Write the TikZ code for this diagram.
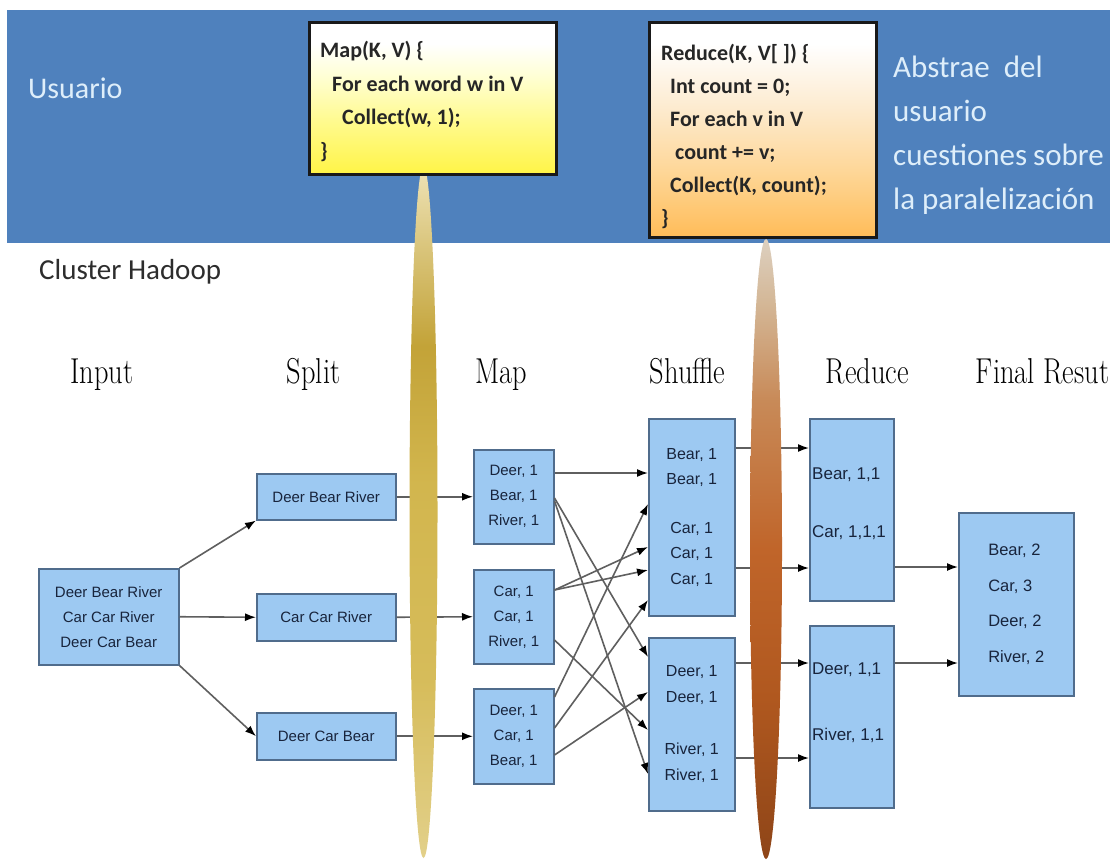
\documentclass[tikz,border=0pt]{standalone}
\usepackage{fontspec}
\newfontfamily\calibri{Carlito}
\newfontfamily\arial{Liberation Sans}
\usetikzlibrary{arrows.meta}
\definecolor{banner}{RGB}{79,129,189}
\definecolor{boxfill}{RGB}{157,201,242}
\definecolor{boxdraw}{RGB}{80,108,140}
\definecolor{boxtext}{RGB}{24,36,60}
\definecolor{linecol}{RGB}{95,95,95}
\definecolor{usertext}{RGB}{222,238,250}
\definecolor{clustertext}{RGB}{45,45,45}
% map code box shading
\definecolor{mapA}{RGB}{255,244,70}
\definecolor{mapB}{RGB}{255,250,140}
\definecolor{mapC}{RGB}{255,255,215}
\pgfdeclareverticalshading{mapsh}{100bp}{color(0bp)=(mapA); color(25bp)=(mapA); color(42bp)=(mapB); color(58bp)=(mapC); color(68bp)=(white); color(100bp)=(white)}
% reduce code box shading
\definecolor{redA}{RGB}{255,188,88}
\definecolor{redB}{RGB}{254,214,150}
\definecolor{redC}{RGB}{253,236,210}
\pgfdeclareverticalshading{redsh}{100bp}{color(0bp)=(redA); color(25bp)=(redA); color(40bp)=(redB); color(56bp)=(redC); color(70bp)=(white); color(100bp)=(white)}
% gold spindle
\definecolor{goldA}{RGB}{226,208,138}
\definecolor{goldB}{RGB}{214,188,90}
\definecolor{goldC}{RGB}{210,182,78}
\definecolor{goldD}{RGB}{195,163,56}
\definecolor{goldE}{RGB}{217,196,122}
\definecolor{goldF}{RGB}{239,228,184}
\pgfdeclareverticalshading{goldsh}{100bp}{color(0bp)=(goldA); color(25bp)=(goldA); color(38bp)=(goldB); color(52bp)=(goldC); color(62bp)=(goldD); color(69bp)=(goldE); color(75bp)=(goldF); color(100bp)=(goldF)}
% brown spindle
\definecolor{brA}{RGB}{142,69,24}
\definecolor{brB}{RGB}{176,88,31}
\definecolor{brC}{RGB}{192,101,42}
\definecolor{brD}{RGB}{200,138,88}
\definecolor{brE}{RGB}{212,184,152}
\definecolor{brF}{RGB}{221,208,192}
\pgfdeclareverticalshading{brsh}{100bp}{color(0bp)=(brA); color(25bp)=(brA); color(38bp)=(brB); color(50bp)=(brC); color(62bp)=(brD); color(70bp)=(brE); color(75bp)=(brF); color(100bp)=(brF)}
\begin{document}
\begin{tikzpicture}[x=1pt,y=-1pt,
  ubox/.style={draw=boxdraw, line width=1.5pt, fill=boxfill, inner sep=0pt,
    anchor=north west, text=boxtext, align=center,
    font=\arial\fontsize{15}{25}\selectfont},
  shbox/.style={ubox, font=\arial\fontsize{16}{25.5}\selectfont},
  rtext/.style={anchor=west, inner sep=0pt, text=boxtext,
    font=\arial\fontsize{17}{20}\selectfont},
  conn/.style={draw=linecol, line width=1.6pt,
    -{Latex[length=11pt,width=8pt,color=black]}},
  head/.style={anchor=base, inner sep=0pt, text=black,
    font=\fontsize{36}{40}\selectfont},
  codebox/.style={draw=black!90, line width=3pt, anchor=north west, inner sep=0pt},
  codetext/.style={anchor=north west, inner sep=0pt, align=left, text=black!85,
    font=\calibri\bfseries\fontsize{22}{33.5}\selectfont},
]
\useasboundingbox (0,0) rectangle (1118,859);
\fill[white] (0,0) rectangle (1118,859);
% banner
\fill[banner] (7,10) rectangle (1110,243);
\node[anchor=west, inner sep=0pt, text=usertext, font=\calibri\fontsize{30}{32}\selectfont] (usuario) at (28,88) {Usuario};
\node[anchor=north west, inner sep=0pt, align=left, text=usertext, font=\calibri\fontsize{31}{44}\selectfont] (abstrae) at (893,53)
  {\rule{0pt}{24pt}Abstrae\ \ del\\usuario\\cuestiones\hspace{-1pt} sobre\\la paralelización};
\node[anchor=west, inner sep=0pt, text=clustertext, font=\calibri\fontsize{29}{31}\selectfont] (cluster) at (39,272) {Cluster Hadoop};

% headers
\node[head] (hin) at (102,383) {\scalebox{0.79}[1]{Input}};
\node[head] (hsp) at (313.5,383) {\scalebox{0.79}[1]{Split}};
\node[head] (hmap) at (501,383) {\scalebox{0.79}[1]{Map}};
\node[head] (hsh) at (687.5,383) {\scalebox{0.79}[1]{Shuffle}};
\node[head] (hred) at (867.5,383) {\scalebox{0.79}[1]{Reduce}};
\node[head] (hfin) at (1042.5,383) {\scalebox{0.79}[1]{Final Resut}};

% boxes
\node[ubox, minimum width=140pt, minimum height=96pt] (in) at (38,568) {Deer Bear River\\Car Car River\\Deer Car Bear};
\node[ubox, minimum width=139pt, minimum height=46pt] (s1) at (256,473) {Deer Bear River};
\node[ubox, minimum width=139pt, minimum height=47pt] (s2) at (256,593) {Car Car River};
\node[ubox, minimum width=139pt, minimum height=47pt] (s3) at (256,712) {Deer Car Bear};
\node[ubox, minimum width=80pt, minimum height=94pt] (m1) at (473,449) {Deer, 1\\Bear, 1\\River, 1};
\node[ubox, minimum width=80pt, minimum height=94pt] (m2) at (473,569) {Car, 1\\Car, 1\\River, 1};
\node[ubox, minimum width=80pt, minimum height=95pt] (m3) at (473,688) {Deer, 1\\Car, 1\\Bear, 1};
\node[shbox, minimum width=86pt, minimum height=197pt] (sh1) at (648,418) {Bear, 1\\Bear, 1\\[23pt]Car, 1\\Car, 1\\Car, 1};
\node[shbox, minimum width=86pt, minimum height=173pt] (sh2) at (648,637) {Deer, 1\\Deer, 1\\[27pt]River, 1\\River, 1};
\node[ubox, minimum width=84pt, minimum height=182pt] (r1) at (809,418) {};
\node[ubox, minimum width=84pt, minimum height=182pt] (r2) at (809,625) {};
\node[rtext] (r1a) at (812,475) {Bear, 1,1};
\node[rtext] (r1b) at (812,533) {Car, 1,1,1};
\node[rtext] (r2a) at (812,670) {Deer, 1,1};
\node[rtext] (r2b) at (812,735) {River, 1,1};
\node[ubox, align=left, minimum width=115pt, minimum height=183pt, font=\arial\fontsize{16.5}{35.7}\selectfont] (fin) at (958,512) {Bear, 2\\Car, 3\\Deer, 2\\River, 2};

% connectors
\draw[conn] (in.north east) -- (s1.south west);
\draw[conn] (in.east) -- (s2.west);
\draw[conn] (in.south east) -- (s3.west);
\draw[conn] (s1.east) -- (m1.west);
\draw[conn] (s2.east) -- (m2.west);
\draw[conn] (s3.east) -- (m3.west);

\draw[conn] ([yshift=-24pt]m1.north east) -- ([yshift=-55pt]sh1.north west);
\draw[conn] ([yshift=-49pt]m1.north east) -- ([yshift=-20pt]sh2.north west);
\draw[conn] ([yshift=-52pt]m1.north east) -- ([yshift=-137pt]sh2.north west);
\draw[conn] ([yshift=-21pt]m2.north east) -- ([yshift=-129pt]sh1.north west);
\draw[conn] ([yshift=-21pt]m2.north east) -- ([yshift=-152pt]sh1.north west);
\draw[conn] ([yshift=-71pt]m2.north east) -- ([yshift=-93pt]sh2.north west);
\draw[conn] ([yshift=-9pt]m3.north east) -- ([yshift=-86pt]sh1.north west);
\draw[conn] ([yshift=-40pt]m3.north east) -- ([yshift=-182pt]sh1.north west);
\draw[conn] ([yshift=-67pt]m3.north east) -- ([yshift=-55pt]sh2.north west);

\draw[conn] ([yshift=-30pt]sh1.north east) -- ([yshift=-30pt]r1.north west);
\draw[conn] ([yshift=-150pt]sh1.north east) -- ([yshift=-150pt]r1.north west);
\draw[conn] ([yshift=-26pt]sh2.north east) -- ([yshift=-38pt]r2.north west);
\draw[conn] ([yshift=-121pt]sh2.north east) -- ([yshift=-133pt]r2.north west);

\draw[conn] ([yshift=-149pt]r1.north east) -- ([yshift=-55pt]fin.north west);
\draw[conn] ([yshift=-38pt]r2.north east) -- ([yshift=-151pt]fin.north west);

% spindles
\shade[shading=goldsh] (423.5,512) ellipse [x radius=14pt, y radius=346pt];
\shade[shading=brsh] (766,549) ellipse [x radius=16pt, y radius=310pt];

% code boxes
\node[codebox, shading=mapsh, minimum width=247pt, minimum height=152pt] (mapbox) at (308,21) {};
\node[codetext] (maptext) at (320,39.5)
  {\rule{0pt}{18pt}Map(K, V) \{\\\hspace*{12pt}For each word w in V\\\hspace*{22pt}Collect(w, 1);\\\}};
\node[codebox, shading=redsh, minimum width=227pt, minimum height=215pt] (redbox) at (648,21) {};
\node[codetext, font=\calibri\bfseries\fontsize{22}{33}\selectfont] (redtext) at (661,42.5)
  {\rule{0pt}{18pt}Reduce(K, V[ ]) \{\\\hspace*{9pt}Int count = 0;\\\hspace*{9pt}For each v in V\\\hspace*{14pt}count += v;\\\hspace*{9pt}Collect(K, count);\\\}};
\end{tikzpicture}
\end{document}
